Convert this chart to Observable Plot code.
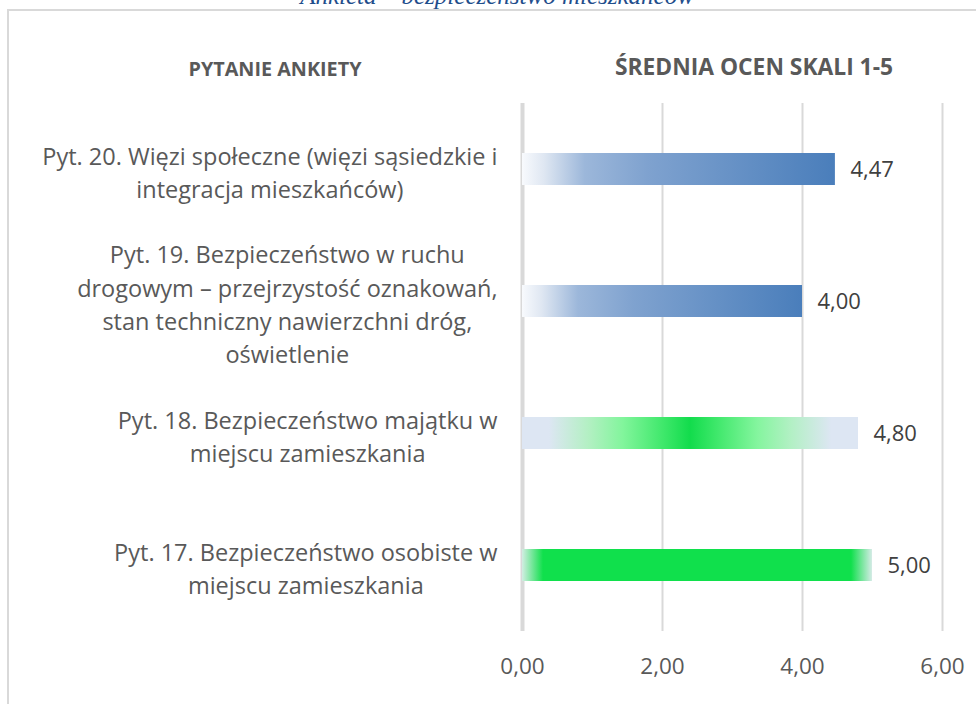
<!DOCTYPE html>
<html>
<head>
<meta charset="utf-8">
<script src="https://cdn.jsdelivr.net/npm/d3@7"></script>
<script src="https://cdn.jsdelivr.net/npm/@observablehq/plot@0.6"></script>
<style>
  body { margin: 0; background: #fff; }
  #wrap { position: relative; width: 976px; height: 704px; overflow: hidden; font-family: "Open Sans", Lato, sans-serif; }
  #frame { position: absolute; left: 7px; top: 9px; right: -10px; bottom: -10px; border-top: 2px solid #d9d9d9; border-left: 2px solid #d9d9d9; }
  #title { position: absolute; left: 497px; top: -17px; transform: translateX(-50%); white-space: nowrap;
           font-family: "Liberation Serif", "DejaVu Serif", serif; font-style: italic; font-size: 25px; line-height: 25px; color: #1f4e8c; }
  .hdr { position: absolute; transform: translate(-50%, -50%); white-space: nowrap; font-weight: 700; color: #595959; }
  #chart { position: absolute; left: 0; top: 0; }
</style>
</head>
<body>
<div id="wrap">
  <div id="title">Ankieta – bezpieczeństwo mieszkańców</div>
  <div id="frame"></div>
  <div id="chart"></div>
  <div class="hdr" style="left:275px; top:68px; font-size:19.8px;">PYTANIE ANKIETY</div>
  <div class="hdr" style="left:754px; top:66px; font-size:22.8px;">ŚREDNIA OCEN SKALI 1-5</div>
</div>
<script>
// ---- data ----
const questions = ["Pyt. 20", "Pyt. 19", "Pyt. 18", "Pyt. 17"];
const questionLabels = [
  "Pyt. 20. Więzi społeczne (więzi sąsiedzkie i\nintegracja mieszkańców)",
  "Pyt. 19. Bezpieczeństwo w ruchu\ndrogowym – przejrzystość oznakowań,\nstan techniczny nawierzchni dróg,\noświetlenie",
  "Pyt. 18. Bezpieczeństwo majątku w\nmiejscu zamieszkania",
  "Pyt. 17. Bezpieczeństwo osobiste w\nmiejscu zamieszkania"
];
const meanScores = [4.47, 4.00, 4.80, 5.00];
const xTicks = [0, 2, 4, 6];

// ---- styles (kept apart from data) ----
const barGradientIds = ["gBlue", "gBlue", "gGreenMid", "gGreenFull"];
const gradientDefs = [
  { id: "gBlue", stops: [[0, "#f8fafd"], [0.07, "#dfe7f2"], [0.2, "#9cb7da"], [0.4, "#7fa2cf"], [1, "#4a7ebb"]] },
  { id: "gGreenMid", stops: [[0, "#dde6f3"], [0.08, "#dde6f3"], [0.2, "#b2f0c2"], [0.3, "#82f59c"], [0.42, "#3fe86b"], [0.5, "#12dc4c"], [0.58, "#3fe86b"], [0.7, "#84f59e"], [0.8, "#b2f0c4"], [0.92, "#dde6f3"], [1, "#dde6f3"]] },
  { id: "gGreenFull", stops: [[0, "#d2ede2"], [0.06, "#10e04c"], [0.94, "#10e04c"], [1, "#d5ebe6"]] }
];

const data = questions.map((q, i) => ({ q, label: questionLabels[i], v: meanScores[i], grad: barGradientIds[i] }));
const fmt = v => v.toFixed(2).replace(".", ",");

// measure label blocks so that lines are centred within a right-aligned block
const fontFamily = "'Open Sans', Lato, sans-serif";
const labelSize = 23.5;
const ctx = document.createElement("canvas").getContext("2d");
ctx.font = `${labelSize}px "Open Sans"`;
const blockWidth = s => Math.max(...s.split("\n").map(l => ctx.measureText(l).width));
const labelGap = 25;

const labelMarks = data.map(d => Plot.text([d], {
  y: "q", text: "label", frameAnchor: "left",
  textAnchor: "middle", lineAnchor: "middle", lineHeight: 1.42,
  dx: -labelGap - blockWidth(d.label) / 2, dy: 1,
  fill: "#595959", fontSize: labelSize
}));

const chart = Plot.plot({
  width: 976, height: 704,
  marginLeft: 522, marginRight: 34, marginTop: 103, marginBottom: 73,
  style: { fontFamily, fontSize: "22px", color: "#595959", background: "transparent", overflow: "visible" },
  x: { domain: [0, 6], label: null },
  y: { domain: questions, paddingInner: 0.758, paddingOuter: 0.379, axis: null },
  color: { type: "identity" },
  marks: [
    Plot.gridX(xTicks.slice(1), { stroke: "#d9d9d9", strokeOpacity: 1, strokeWidth: 2 }),
    Plot.ruleX([0], { stroke: "#d9d9d9", strokeWidth: 4 }),
    Plot.barX(data, { x: "v", y: "q", fill: d => `url(#${d.grad})` }),
    Plot.text(data, { x: "v", y: "q", text: d => fmt(d.v), textAnchor: "start", dx: 15, fill: "#404040", fontSize: 22 }),
    Plot.axisX(xTicks, { tickSize: 0, tickPadding: 27, tickFormat: fmt, fill: "#595959", fontSize: 22.5, label: null }),
    ...labelMarks
  ]
});

const defs = d3.select(chart).insert("defs", ":first-child");
gradientDefs.forEach(g => {
  const lg = defs.append("linearGradient").attr("id", g.id)
    .attr("x1", 0).attr("x2", 1).attr("y1", 0).attr("y2", 0);
  g.stops.forEach(([o, c]) => lg.append("stop").attr("offset", o).attr("stop-color", c));
});

document.getElementById("chart").append(chart);
</script>
</body>
</html>
